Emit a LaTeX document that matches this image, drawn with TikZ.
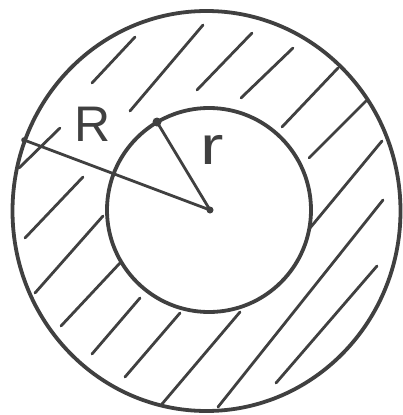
\documentclass[tikz,border=0pt]{standalone}
\usepackage{fontspec}
\setmainfont{Liberation Sans}
\definecolor{ink}{HTML}{404040}
\begin{document}
\begin{tikzpicture}[x=1pt,y=-1pt,
  rim/.style={draw=ink,line width=3.8pt},
  hatch/.style={draw=ink,line width=2.8pt,line cap=round},
  radius line/.style={draw=ink,line width=2.8pt},
  lbl/.style={text=ink,inner sep=0pt}]
\useasboundingbox (0,0) rectangle (403,415);
\coordinate (C) at (210,210);
\coordinate (Rend) at (24,140);
\coordinate (rend) at (157,122);
% hatching
\foreach \a/\b/\c/\d in {135/37/92/83, 203/25/130/111, 252/33/197/90, 293/48/241/98,
  338/68/282/127, 366/101/309/158, 382/141/310/228, 383/200/218/407,
  377/266/276/383, 240/312/162/404, 60/128/19/168, 83/177/25/238,
  103/216/35/293, 120/263/61/326, 140/298/92/354, 180/313/125/377}
  \draw[hatch] (\a,\b) -- (\c,\d);
% circles
\draw[rim,fill=none] (206.5,211) ellipse [x radius=194, y radius=200];
\fill[white] (209,210) circle [radius=100];
\draw[rim] (209,210) circle [radius=102];
% radii
\draw[radius line] (Rend) -- (C);
\draw[radius line] (rend) -- (C);
\fill[ink] (rend) circle [radius=4.5];
\fill[ink] (Rend) circle [radius=2.8];
\fill[ink] (C) circle [radius=3.5];
% labels
\node[lbl,font=\fontsize{50}{50}\selectfont] (Rlab) at (93,124) {R};
\node[lbl,font=\fontsize{54}{54}\selectfont,xscale=1.3] (rlab) at (212,150) {r};
\end{tikzpicture}
\end{document}
